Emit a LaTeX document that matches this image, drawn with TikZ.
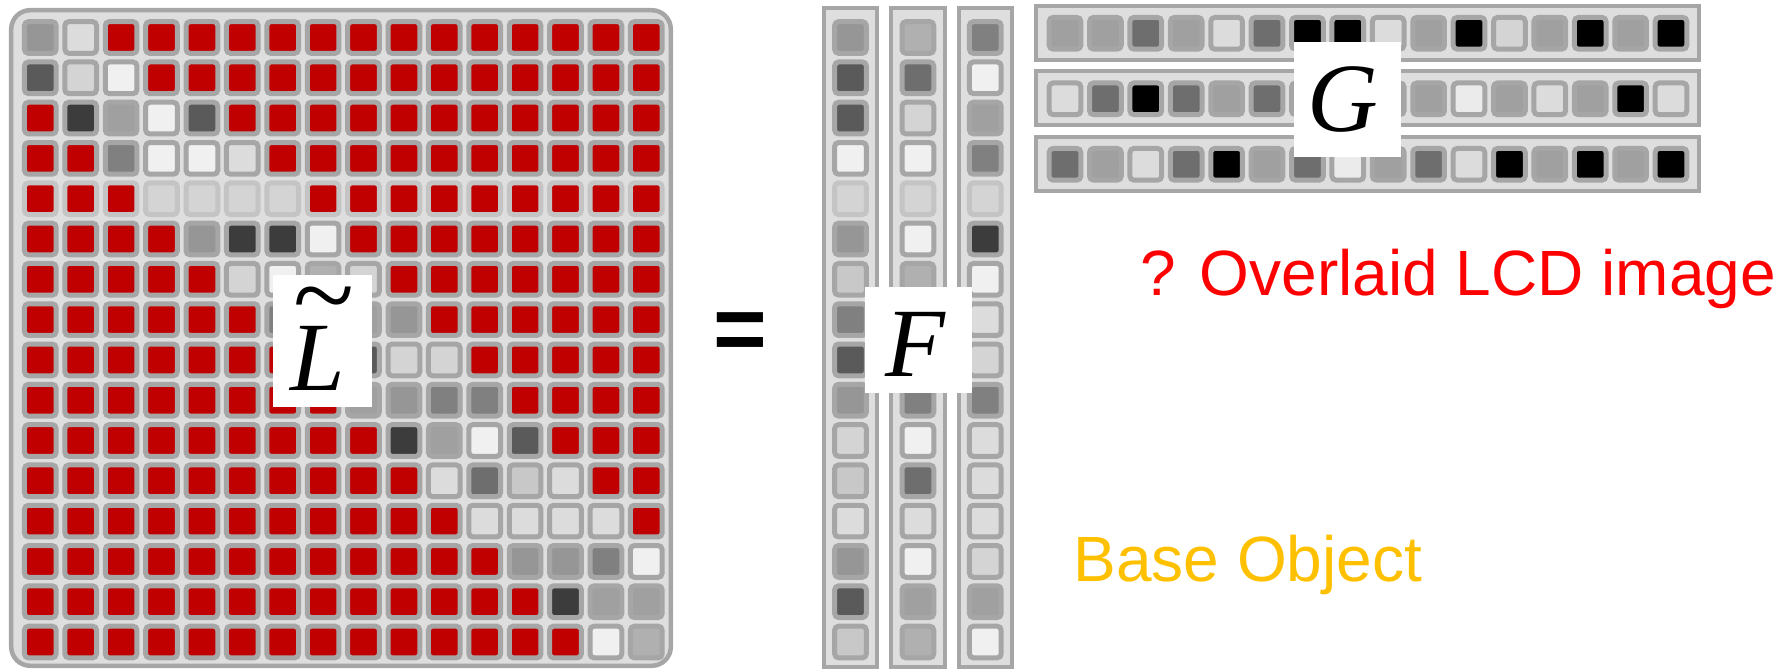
\documentclass[tikz,border=0pt]{standalone}
\usepackage{fontspec}
\usepackage{graphicx}
\setmainfont{Liberation Sans}
\newfontfamily\letterfont{Liberation Serif}

% cell shades
\definecolor{cR}{HTML}{C00000}
\definecolor{cw}{HTML}{F0F0F0}
\definecolor{cl}{HTML}{EBEBEB}
\definecolor{cb}{HTML}{DCDCDC}
\definecolor{cc}{HTML}{D4D4D4}
\definecolor{cd}{HTML}{C8C8C8}
\definecolor{ce}{HTML}{B0B0B0}
\definecolor{cf}{HTML}{A0A0A0}
\definecolor{cg}{HTML}{969696}
\definecolor{ch}{HTML}{808080}
\definecolor{ci}{HTML}{6E6E6E}
\definecolor{cj}{HTML}{5A5A5A}
\definecolor{ck}{HTML}{3C3C3C}
\definecolor{cz}{HTML}{000000}
\definecolor{panel}{HTML}{DEDEDE}
\definecolor{rim}{HTML}{A6A6A6}
\definecolor{softrim}{HTML}{C4C4C4}
\definecolor{qred}{HTML}{FF0000}
\definecolor{baseamber}{HTML}{FFC000}

\tikzset{
  cell/.style={draw=rim, line width=5pt, rounded corners=4pt, minimum size=31.7pt, inner sep=0pt},
  strip/.style={draw=rim, line width=4pt, fill=panel},
  tag/.style={fill=white, inner sep=0pt},
  letter/.style={font=\letterfont\itshape\fontsize{98}{98}\selectfont, inner sep=0pt, anchor=base},
  caption/.style={font=\fontsize{64}{64}\selectfont, inner sep=0pt, anchor=base west}
}

\begin{document}
\begin{tikzpicture}[x=1pt,y=-1pt]
  \useasboundingbox (0,0) rectangle (1780,671);
  % Big matrix
  \draw[draw=rim, line width=4.5pt, fill=panel, rounded corners=19pt] (11.2,10.2) rectangle (670.8,665.8);
  \foreach \row [count=\ri from 0] in {
    {g,b,R,R,R,R,R,R,R,R,R,R,R,R,R,R},
    {j,c,w,R,R,R,R,R,R,R,R,R,R,R,R,R},
    {R,k,f,w,j,R,R,R,R,R,R,R,R,R,R,R},
    {R,R,h,w,w,b,R,R,R,R,R,R,R,R,R,R},
    {R,R,R,c,c,c,c,R,R,R,R,R,R,R,R,R},
    {R,R,R,R,g,k,k,w,R,R,R,R,R,R,R,R},
    {R,R,R,R,R,c,w,e,c,R,R,R,R,R,R,R},
    {R,R,R,R,R,R,h,b,f,g,R,R,R,R,R,R},
    {R,R,R,R,R,R,R,f,j,c,c,R,R,R,R,R},
    {R,R,R,R,R,R,R,R,f,g,h,h,R,R,R,R},
    {R,R,R,R,R,R,R,R,R,k,f,w,j,R,R,R},
    {R,R,R,R,R,R,R,R,R,R,b,i,d,b,R,R},
    {R,R,R,R,R,R,R,R,R,R,R,b,b,b,b,R},
    {R,R,R,R,R,R,R,R,R,R,R,R,g,g,h,w},
    {R,R,R,R,R,R,R,R,R,R,R,R,R,k,f,f},
    {R,R,R,R,R,R,R,R,R,R,R,R,R,R,w,e}}{
    \foreach \v [count=\ci from 0] in \row {
      \ifnum\ri=4 \def\rimc{softrim}\else\def\rimc{rim}\fi
      \node[cell, draw=\rimc, fill=c\v] (L-\ri-\ci) at ({40.3+40.4*\ci},{37.5+40.3*\ri}) {};
    }
  }
  % F columns
  \foreach \col [count=\k from 0] in {
    {g,j,j,w,c,g,d,h,j,g,c,d,b,g,j,d},
    {e,i,c,w,c,w,e,e,h,h,w,i,b,w,f,e},
    {h,w,f,h,c,k,w,b,c,h,b,b,b,c,f,w}}{
    \draw[strip] ({823.7+67.4*\k},8) rectangle ({877.3+67.4*\k},667);
    \foreach \v [count=\ri from 0] in \col {
      \ifnum\ri=4 \def\rimc{softrim}\else\def\rimc{rim}\fi
      \node[cell, draw=\rimc, fill=c\v] (F-\k-\ri) at ({850.5+67.4*\k},{37.5+40.3*\ri}) {};
    }
  }
  % G rows
  \foreach \row [count=\k from 0] in {
    {f,f,i,f,b,i,z,z,b,f,z,c,f,z,f,z},
    {b,i,z,i,f,i,f,b,f,f,l,f,b,f,z,b},
    {i,f,b,i,z,f,i,l,f,i,b,z,f,z,f,z}}{
    \draw[strip] (1036,{6+65.5*\k}) rectangle (1699,{60+65.5*\k});
    \foreach \v [count=\ci from 0] in \row {
      \node[cell, fill=c\v] (G-\k-\ci) at ({1065+40.4*\ci},{33.3+65.5*\k}) {};
    }
  }
  % Labels
  \node[tag, minimum width=99pt, minimum height=132pt] (Ltag) at (322.5,341) {};
  \node[letter] (Lsym) at (317.6,390)
    {\rlap{\hspace{3.2pt}\raisebox{58.7pt}{\upshape\scalebox{1.15}[1.1]{\textasciitilde}}}L};
  \node[tag, minimum width=106.7pt, minimum height=106.7pt] (Ftag) at (918.3,340) {};
  \node[letter] (Fsym) at (915.6,376.7) {F};
  \node[tag, minimum width=106.7pt, minimum height=115pt] (Gtag) at (1347.3,99.2) {};
  \node[letter] (Gsym) at (1342.4,131.2) {G};
  % Equals sign
  \node[inner sep=0pt, anchor=base, font=\bfseries\fontsize{92}{92}\selectfont] (eq) at (740.7,360.7) {=};
  % Captions
  \node[caption, text=qred] (overlaid) at (1140.4,295) {? Overlaid LCD image};
  \node[caption, text=baseamber] (baseobj) at (1073.3,581) {Base Object};
\end{tikzpicture}
\end{document}
